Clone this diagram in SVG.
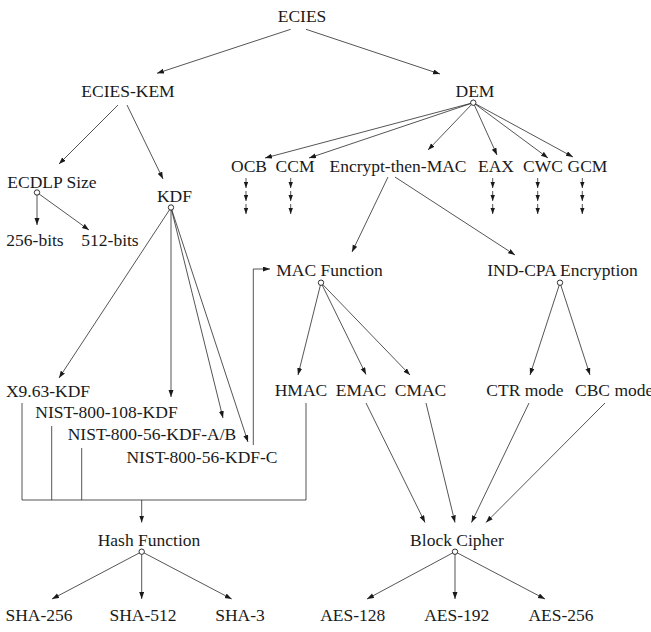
<svg xmlns="http://www.w3.org/2000/svg" width="651" height="632" viewBox="0 0 651 632">
<style>
text{font-family:'Liberation Serif','Times New Roman',serif;font-size:17.5px;fill:#1a1a1a;text-anchor:middle}
.c{stroke:#2a2a2a;stroke-width:0.8;fill:none}
.a{marker-end:url(#ah)}
.d{marker-end:url(#sh)}
.o{fill:#fff;stroke:#1a1a1a;stroke-width:0.9}
</style>
<defs>
<marker id="ah" markerUnits="userSpaceOnUse" markerWidth="8" markerHeight="6" refX="7" refY="2.5" orient="auto"><path d="M0,0 L7,2.5 L0,5 z" fill="#1a1a1a"/></marker>
<marker id="sh" markerUnits="userSpaceOnUse" markerWidth="7" markerHeight="6" refX="6" refY="2.2" orient="auto"><path d="M0,0 L6,2.2 L0,4.4 z" fill="#1a1a1a"/></marker>
</defs>
<rect width="651" height="632" fill="#fff"/>
<g id="connectors">
<path class="c a" d="M290.7,29.3 L157,73.3"/>
<path class="c a" d="M306,29.3 L440,74"/>
<path class="c a" d="M118,105 L59,164"/>
<path class="c a" d="M127,105 L163,179"/>
<path class="c a" d="M37,192.5 L37,225"/>
<path class="c a" d="M37,192.5 L89,230"/>
<path class="c a" d="M171,207.5 L59,378"/>
<path class="c a" d="M171,207.5 L171,397"/>
<path class="c a" d="M171,207.5 L223,418"/>
<path class="c a" d="M171,207.5 L248,442"/>
<path class="c a" d="M473.3,102.7 L265,158"/>
<path class="c a" d="M473.3,102.7 L309,158"/>
<path class="c a" d="M473.3,102.7 L428,150"/>
<path class="c a" d="M473.3,102.7 L497,155"/>
<path class="c a" d="M473.3,102.7 L548,158"/>
<path class="c a" d="M473.3,102.7 L573,157"/>
<path class="c d" d="M246,178 V188"/><path class="c d" d="M246,191 V201"/><path class="c d" d="M246,204 V214"/>
<path class="c d" d="M290.7,178 V188"/><path class="c d" d="M290.7,191 V201"/><path class="c d" d="M290.7,204 V214"/>
<path class="c d" d="M492.7,178 V188"/><path class="c d" d="M492.7,191 V201"/><path class="c d" d="M492.7,204 V214"/>
<path class="c d" d="M537.7,178 V188"/><path class="c d" d="M537.7,191 V201"/><path class="c d" d="M537.7,204 V214"/>
<path class="c d" d="M582.3,178 V188"/><path class="c d" d="M582.3,191 V201"/><path class="c d" d="M582.3,204 V214"/>
<path class="c a" d="M388,177 L352,252"/>
<path class="c a" d="M395,177 L515,255"/>
<path class="c a" d="M321,282.7 L298,375"/>
<path class="c a" d="M321,282.7 L366,374.5"/>
<path class="c a" d="M321,282.7 L410,375"/>
<path class="c a" d="M560,282.7 L530,375"/>
<path class="c a" d="M560,282.7 L590,375"/>
<path class="c a" d="M253.3,445 V269 H270"/>
<path class="c" d="M22,403 V500 H306 V403 M51.7,426 V500 M81.7,448 V500"/>
<path class="c a" d="M141.7,500 V522.5"/>
<path class="c a" d="M366,403 L425,522.5"/>
<path class="c a" d="M426,403 L455,522.5"/>
<path class="c a" d="M529,403 L471.5,522.5"/>
<path class="c a" d="M605,403 L486,522.5"/>
<path class="c a" d="M141.7,551.7 L52,599"/>
<path class="c a" d="M141.7,551.7 L141.7,599"/>
<path class="c a" d="M141.7,551.7 L231.7,599"/>
<path class="c a" d="M455,551.7 L367,599"/>
<path class="c a" d="M455,551.7 L455,599"/>
<path class="c a" d="M455,551.7 L545,599"/>
</g>
<g id="n-ecies"><text x="302" y="22">ECIES</text></g>
<g id="n-ecies-kem"><text x="128" y="97">ECIES-KEM</text></g>
<g id="n-dem"><text x="475" y="97">DEM</text><circle class="o" cx="473.3" cy="102.7" r="2.7"/></g>
<g id="n-ecdlp"><text x="52" y="188">ECDLP Size</text><circle class="o" cx="37" cy="192.5" r="2.7"/></g>
<g id="n-kdf"><text x="174.5" y="202">KDF</text><circle class="o" cx="171" cy="207.5" r="2.7"/></g>
<g id="n-256bits"><text x="35" y="246">256-bits</text></g>
<g id="n-512bits"><text x="110" y="246">512-bits</text></g>
<g id="n-ocb"><text x="249" y="172">OCB</text></g>
<g id="n-ccm"><text x="295" y="172">CCM</text></g>
<g id="n-etm"><text x="398" y="172">Encrypt-then-MAC</text></g>
<g id="n-eax"><text x="496" y="172">EAX</text></g>
<g id="n-cwc"><text x="543" y="172">CWC</text></g>
<g id="n-gcm"><text x="587.5" y="172">GCM</text></g>
<g id="n-mac"><text x="329.5" y="276">MAC Function</text><circle class="o" cx="321" cy="282.7" r="2.7"/></g>
<g id="n-indcpa"><text x="562.5" y="276">IND-CPA Encryption</text><circle class="o" cx="560" cy="282.7" r="2.7"/></g>
<g id="n-x963"><text x="48" y="397">X9.63-KDF</text></g>
<g id="n-nist108"><text x="106.5" y="418">NIST-800-108-KDF</text></g>
<g id="n-nist56ab"><text x="152" y="440">NIST-800-56-KDF-A/B</text></g>
<g id="n-nist56c"><text x="202" y="463">NIST-800-56-KDF-C</text></g>
<g id="n-hmac"><text x="301" y="396">HMAC</text></g>
<g id="n-emac"><text x="361" y="396">EMAC</text></g>
<g id="n-cmac"><text x="420.5" y="396">CMAC</text></g>
<g id="n-ctr"><text x="525" y="396">CTR mode</text></g>
<g id="n-cbc"><text x="575" y="396" style="text-anchor:start">CBC mode</text></g>
<g id="n-hash"><text x="149" y="546">Hash Function</text><circle class="o" cx="141.7" cy="551.7" r="2.7"/></g>
<g id="n-block"><text x="457" y="546">Block Cipher</text><circle class="o" cx="455" cy="551.7" r="2.7"/></g>
<g id="n-sha256"><text x="39" y="620.5">SHA-256</text></g>
<g id="n-sha512"><text x="143" y="620.5">SHA-512</text></g>
<g id="n-sha3"><text x="240" y="620.5">SHA-3</text></g>
<g id="n-aes128"><text x="352.7" y="620.5">AES-128</text></g>
<g id="n-aes192"><text x="456.7" y="620.5">AES-192</text></g>
<g id="n-aes256"><text x="561" y="620.5">AES-256</text></g>
</svg>
